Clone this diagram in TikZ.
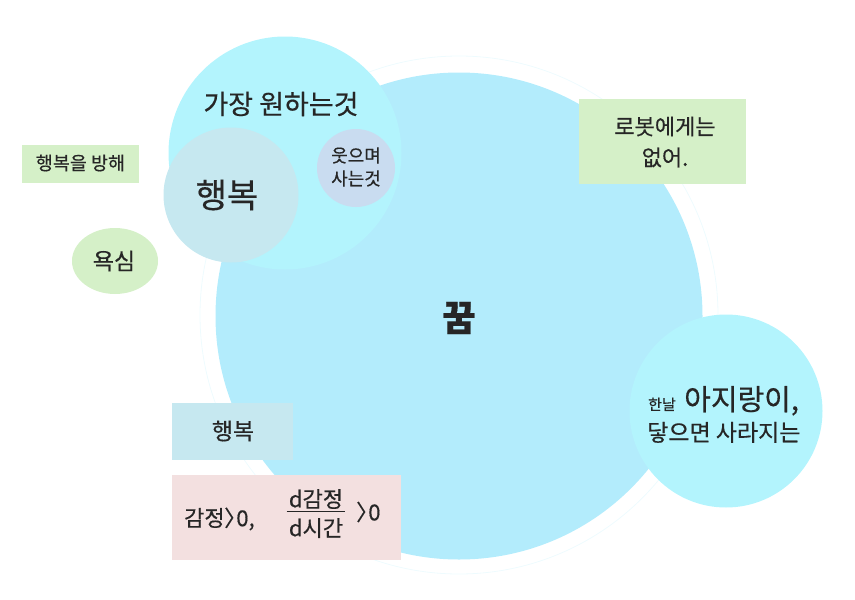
\documentclass[tikz,border=0pt]{standalone}
\usepackage{fontspec}
\setmainfont{Noto Sans CJK KR}[FakeBold=0.4]
\definecolor{txt}{HTML}{262626}
\definecolor{dream}{HTML}{B3ECFC}
\definecolor{want}{HTML}{B3F4FD}
\definecolor{happy}{HTML}{C6E8F0}
\definecolor{smile}{HTML}{C9DCF0}
\definecolor{green}{HTML}{D5F0C8}
\definecolor{pink}{HTML}{F3E0E0}
\definecolor{faint}{HTML}{EEFBFE}
\begin{document}
\begin{tikzpicture}[x=1pt,y=-1pt,
  lbl/.style={text=txt,align=center,inner sep=0pt},
  circ/.style={circle,draw=none,inner sep=0pt},
  box/.style={draw=none,inner sep=0pt}]
\useasboundingbox (0,0) rectangle (855,600);
% faint outer ring
\node[circ,draw=faint,line width=0.8pt,minimum size=518pt] (ring) at (459,315) {};
% big dream circle
\node[circ,fill=dream,minimum size=487pt] (dream) at (459,316) {};
\node[lbl,font=\fontsize{36}{40}\selectfont\bfseries] (dreamt) at (459,318) {꿈};
% want circle
\node[circ,fill=want,minimum size=233pt] (want) at (285,153) {};
\node[lbl,font=\fontsize{27}{32}\selectfont] (wantt) at (281,104) {가장 원하는것};
\node[circ,fill=happy,minimum size=135pt] (happyc) at (231,195) {};
\node[lbl,font=\fontsize{34}{38}\selectfont] (happyt) at (227,195) {행복};
\node[circ,fill=smile,minimum size=78pt] (smile) at (356,168) {};
\node[lbl,font=\fontsize{18}{23}\selectfont] (smilet) at (356,167) {웃으며\\사는것};
% right circle
\node[circ,fill=want,minimum size=193pt] (haze) at (726,411) {};
\node[lbl,font=\fontsize{15}{16}\selectfont,anchor=base west] (oneday) at (648,410) {한날};
\node[lbl,font=\fontsize{29}{32}\selectfont,anchor=base west] (haze1) at (684,410) {아지랑이,};
\node[lbl,font=\fontsize{23}{26}\selectfont,anchor=base west] (haze2) at (647,441) {닿으면 사라지는};
% robot box
\node[box,fill=green,minimum width=167pt,minimum height=85pt] (robot) at (662.5,141.5) {};
\node[lbl,font=\fontsize{22}{31}\selectfont] (robott) at (665,142) {로봇에게는\\없어.};
% hinder box
\node[box,fill=green,minimum width=117pt,minimum height=38pt] (hinder) at (80.5,164) {};
\node[lbl,font=\fontsize{18.5}{22}\selectfont] (hindert) at (80.5,163) {행복을 방해};
% greed ellipse
\draw[fill=green,draw=none] (115,261) ellipse (43pt and 33pt);
\node[lbl,font=\fontsize{23}{26}\selectfont] (greed) at (114,261) {욕심};
% happiness box
\node[box,fill=happy,minimum width=121pt,minimum height=57pt] (hbox) at (232.5,431.5) {};
\node[lbl,font=\fontsize{23}{26}\selectfont] (hboxt) at (233,431) {행복};
% pink box
\node[box,fill=pink,minimum width=229pt,minimum height=85pt] (pbox) at (286.5,517.5) {};
\node[lbl,font=\fontsize{22}{26}\selectfont,anchor=west] (eq1) at (184,519) {감정\kern-.02em〉\kern-.45em0,};
\node[lbl,font=\fontsize{22}{26}\selectfont] (num) at (316,499) {d감정};
\node[lbl,font=\fontsize{22}{26}\selectfont] (den) at (316,528) {d시간};
\draw[txt,line width=1.3pt] ([shift={(-2,2.5)}]num.south west) coordinate (fl) -- ([shift={(2,2.5)}]num.south east) coordinate (fr);
\node[lbl,font=\fontsize{22}{26}\selectfont,anchor=west] (eq2) at (356,512) {〉\kern-.45em0};
\end{tikzpicture}
\end{document}
